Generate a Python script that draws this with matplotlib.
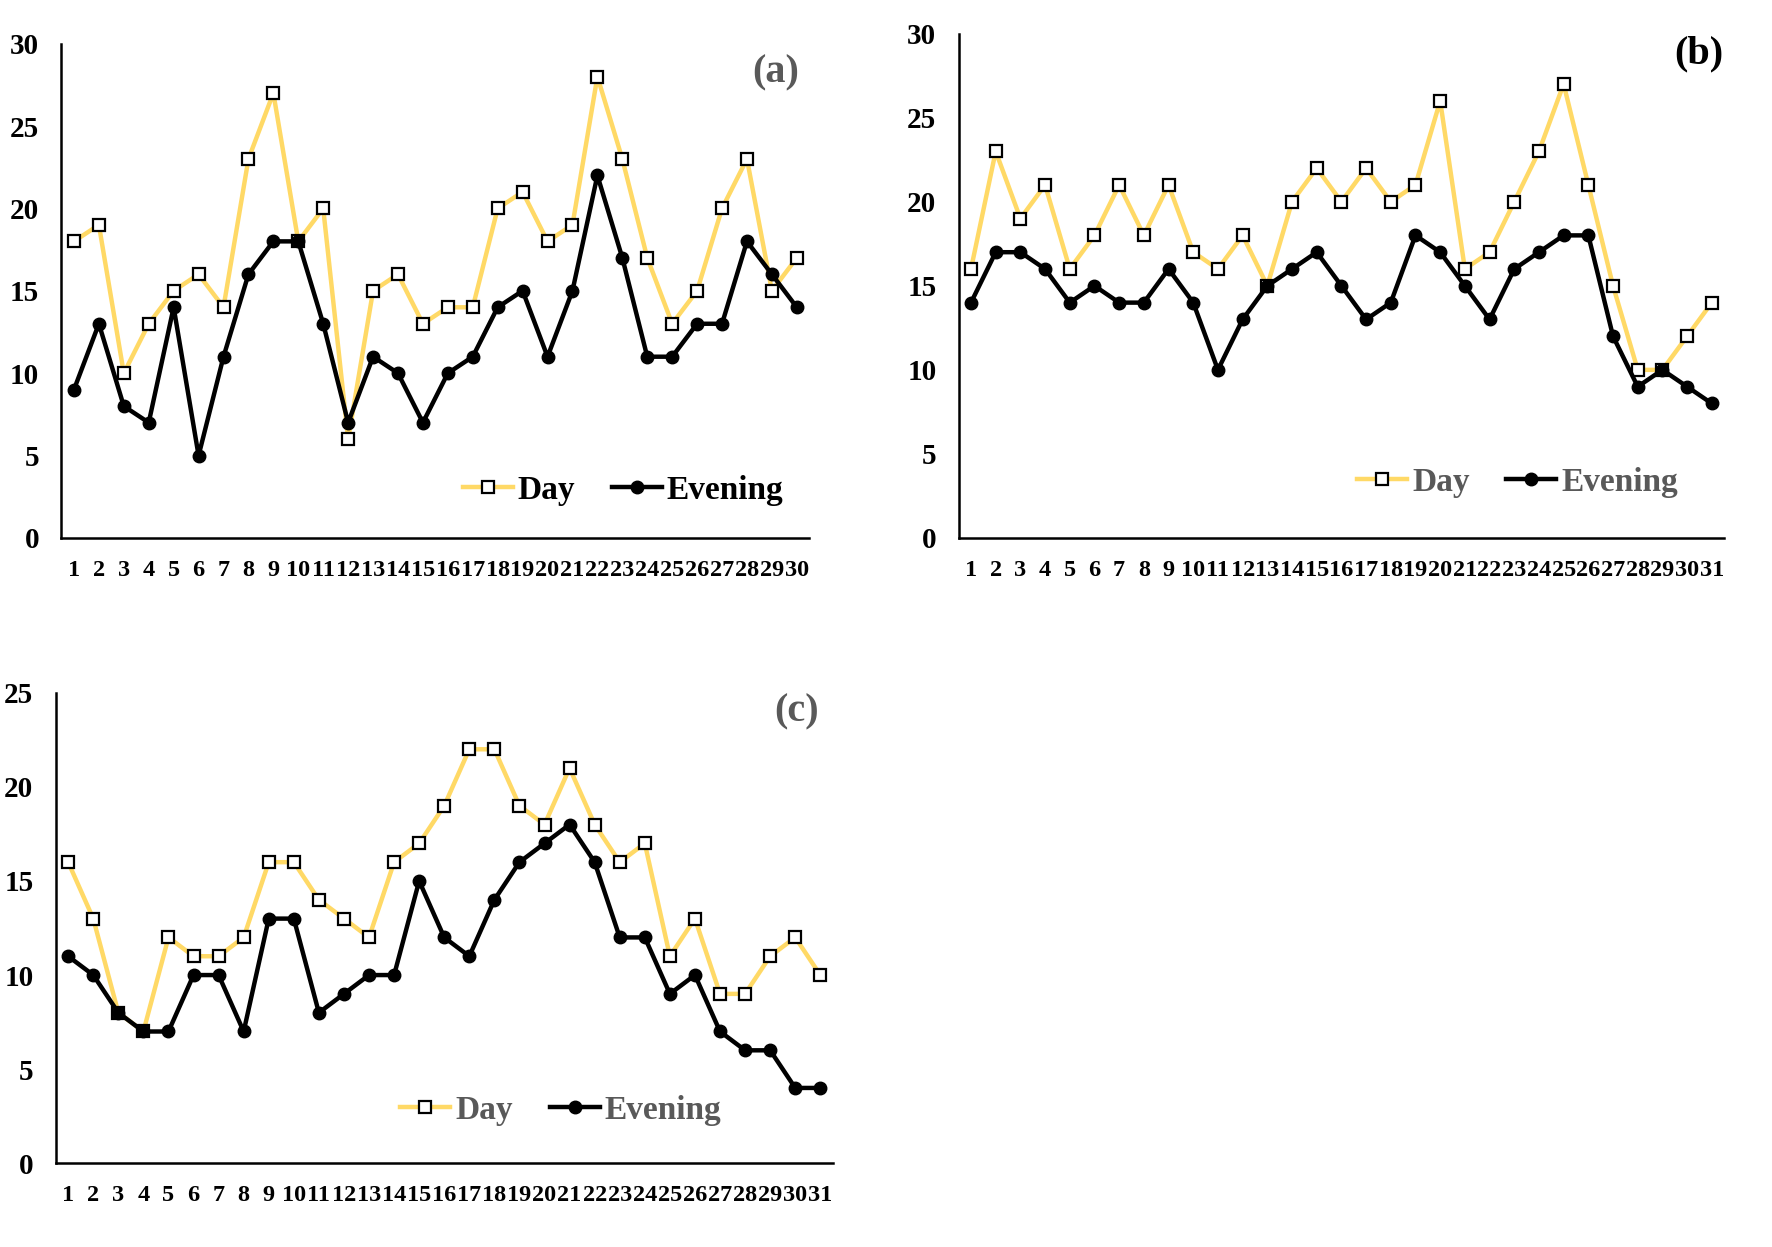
import numpy as np
import matplotlib
matplotlib.use('Agg')
import matplotlib.pyplot as plt

# Data
day_a = [18, 19, 10, 13, 15, 16, 14, 23, 27, 18, 20, 6, 15, 16, 13, 14, 14, 20, 21, 18,
         19, 28, 23, 17, 13, 15, 20, 23, 15, 17]
eve_a = [9, 13, 8, 7, 14, 5, 11, 16, 18, 18, 13, 7, 11, 10, 7, 10, 11, 14, 15, 11,
         15, 22, 17, 11, 11, 13, 13, 18, 16, 14]

day_b = [16, 23, 19, 21, 16, 18, 21, 18, 21, 17, 16, 18, 15, 20, 22, 20, 22, 20, 21, 26,
         16, 17, 20, 23, 27, 21, 15, 10, 10, 12, 14]
eve_b = [14, 17, 17, 16, 14, 15, 14, 14, 16, 14, 10, 13, 15, 16, 17, 15, 13, 14, 18, 17,
         15, 13, 16, 17, 18, 18, 12, 9, 10, 9, 8]

day_c = [16, 13, 8, 7, 12, 11, 11, 12, 16, 16, 14, 13, 12, 16, 17, 19, 22, 22, 19, 18,
         21, 18, 16, 17, 11, 13, 9, 9, 11, 12, 10]
eve_c = [11, 10, 8, 7, 7, 10, 10, 7, 13, 13, 8, 9, 10, 10, 15, 12, 11, 14, 16, 17,
         18, 16, 12, 12, 9, 10, 7, 6, 6, 4, 4]

YELLOW = '#FFD966'
GRAY = '#595959'
SERIF = 'Liberation Serif'

fig = plt.figure(figsize=(17.72, 12.47), dpi=100)

panels = [
    # rect, day, evening, ymax, label, label colour, legend colour, legend centre, label pos
    ([0.0347, 0.5686, 0.422, 0.3964], day_a, eve_a, 30, '(a)', GRAY, 'black', (0.751, 0.097), (0.955, 0.94)),
    ([0.541, 0.5686, 0.432, 0.4044], day_b, eve_b, 30, '(b)', 'black', GRAY, (0.73, 0.11), (0.967, 0.96)),
    ([0.0314, 0.0672, 0.4386, 0.3772], day_c, eve_c, 25, '(c)', GRAY, GRAY, (0.65, 0.113), (0.953, 0.959)),
]

for rect, day, eve, ymax, lab, lab_col, leg_col, leg_pos, lab_pos in panels:
    ax = fig.add_axes(rect)
    x = np.arange(1, len(day) + 1)
    ax.plot(x, day, color=YELLOW, lw=3.2, marker='s', ms=9, mfc='white', mec='black',
            mew=1.6, label='Day', zorder=2)
    ax.plot(x, eve, color='black', lw=3.2, marker='o', ms=9, label='Evening', zorder=3)

    ax.set_xlim(0.5, len(day) + 0.5)
    ax.set_ylim(0, ymax)
    ax.set_xticks(x)
    ax.set_xticklabels([str(i) for i in x])
    ax.set_yticks(np.arange(0, ymax + 1, 5))
    for s in ['top', 'right']:
        ax.spines[s].set_visible(False)
    for s in ['left', 'bottom']:
        ax.spines[s].set_linewidth(1.8)
    ax.tick_params(axis='x', length=0, pad=16)
    ax.tick_params(axis='y', length=0, pad=16)
    for t in ax.get_xticklabels():
        t.set_fontfamily(SERIF)
        t.set_fontweight('bold')
        t.set_fontsize(17.5)
    for t in ax.get_yticklabels():
        t.set_fontfamily(SERIF)
        t.set_fontweight('bold')
        t.set_fontsize(21)

    leg = ax.legend(loc='center', bbox_to_anchor=leg_pos, ncol=2, frameon=False,
                    handlelength=1.5, handletextpad=0.15, columnspacing=1.1,
                    prop={'family': SERIF, 'weight': 'bold', 'size': 24})
    for t in leg.get_texts():
        t.set_color(leg_col)

    ax.text(lab_pos[0], lab_pos[1], lab, transform=ax.transAxes, ha='center', va='center',
            fontfamily=SERIF, fontweight='bold', fontsize=29, color=lab_col)

fig.savefig('out.png', dpi=100)
